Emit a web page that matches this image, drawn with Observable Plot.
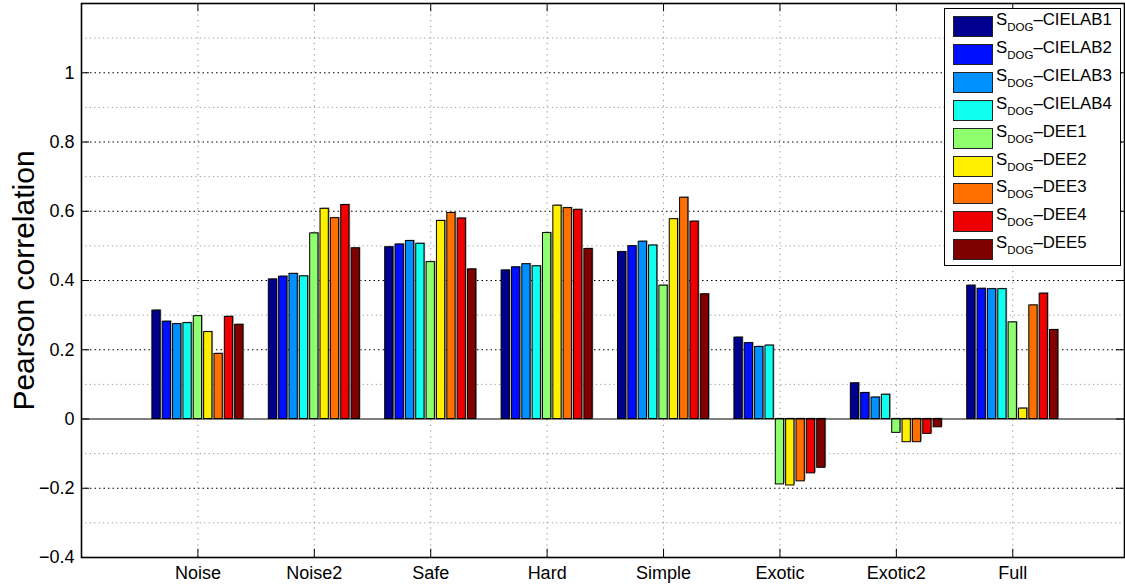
<!DOCTYPE html>
<html>
<head>
<meta charset="utf-8">
<script src="https://cdn.jsdelivr.net/npm/d3@7"></script>
<script src="https://cdn.jsdelivr.net/npm/@observablehq/plot@0.6"></script>
<style>
  html, body { margin: 0; padding: 0; background: white; }
  #wrap { position: relative; width: 1125px; height: 585px; font-family: "Liberation Sans", Arial, sans-serif; }
  #legend { position: absolute; left: 944px; top: 8px; width: 177px; height: 258px; border: 1px solid #000; background: #fff; box-sizing: border-box; }
  .row { position: absolute; left: 0; height: 21px; }
  .sw { position: absolute; left: 8px; top: 0; width: 40px; height: 21px; box-sizing: border-box; border: 1px solid #222; }
  .lb { position: absolute; left: 51px; top: -4px; font-size: 16.8px; white-space: nowrap; color: #000; line-height: 16.5px; }
  .lb sub { font-size: 11.5px; vertical-align: -6px; line-height: 0; }
</style>
</head>
<body>
<div id="wrap"><div id="chart"></div><div id="legend"></div></div>
<script>
const categories = ["Noise", "Noise2", "Safe", "Hard", "Simple", "Exotic", "Exotic2", "Full"];
const seriesNames = ["CIELAB1", "CIELAB2", "CIELAB3", "CIELAB4", "DEE1", "DEE2", "DEE3", "DEE4", "DEE5"];
const seriesColors = ["#00008f", "#0010ff", "#0090ff", "#10ffef", "#8fff70", "#ffef00", "#ff7000", "#ef0000", "#800000"];

const cielab1 = [0.313, 0.403, 0.496, 0.429, 0.482, 0.235, 0.103, 0.385];
const cielab2 = [0.281, 0.411, 0.504, 0.438, 0.499, 0.219, 0.075, 0.376];
const cielab3 = [0.274, 0.419, 0.514, 0.447, 0.512, 0.208, 0.062, 0.375];
const cielab4 = [0.277, 0.412, 0.506, 0.441, 0.501, 0.212, 0.070, 0.375];
const dee1 = [0.297, 0.536, 0.453, 0.537, 0.385, -0.189, -0.040, 0.279];
const dee2 = [0.251, 0.607, 0.572, 0.616, 0.577, -0.192, -0.067, 0.030];
const dee3 = [0.188, 0.580, 0.595, 0.609, 0.639, -0.180, -0.067, 0.328];
const dee4 = [0.295, 0.618, 0.579, 0.604, 0.570, -0.157, -0.043, 0.362];
const dee5 = [0.272, 0.493, 0.432, 0.491, 0.360, -0.141, -0.024, 0.257];

const yTicks = [-0.4, -0.2, 0, 0.2, 0.4, 0.6, 0.8, 1];
const yMinor = [-0.3, -0.1, 0.1, 0.3, 0.5, 0.7, 0.9, 1.1];
const yLabel = "Pearson correlation";

const seriesValues = [cielab1, cielab2, cielab3, cielab4, dee1, dee2, dee3, dee4, dee5];
const nS = seriesNames.length;
const slot = 0.8 / nS;
const barW = slot * 0.8;
const rows = [];
seriesValues.forEach((vals, j) => {
  vals.forEach((v, i) => {
    const c = (i + 1) + (j - (nS - 1) / 2) * slot;
    rows.push({cat: categories[i], series: seriesNames[j], j, x1: c - barW / 2, x2: c + barW / 2, value: v});
  });
});
const catPos = categories.map((c, i) => ({name: c, pos: i + 1}));
const xMax = 8.96;
const tickLenX = 0.07;
const tickLenY = 0.024;

const chart = Plot.plot({
  width: 1125,
  height: 585,
  marginLeft: 81,
  marginRight: 1,
  marginTop: 3,
  marginBottom: 28,
  style: {fontFamily: "Liberation Sans, Arial, sans-serif", fontSize: "18px", color: "#000", background: "white"},
  x: {type: "linear", domain: [0, xMax], axis: null},
  y: {domain: [-0.4, 1.2], axis: null},
  marks: [
    Plot.ruleY(yMinor, {stroke: "#9a9a9a", strokeDasharray: "1.2,3.2", strokeWidth: 1}),
    Plot.ruleY(yTicks.filter(d => d !== 0 && d !== -0.4), {stroke: "#000", strokeDasharray: "1.5,3", strokeWidth: 1}),
    Plot.ruleX(catPos, {x: "pos", stroke: "#8a8a8a", strokeDasharray: "1.2,4.5", strokeWidth: 1}),
    Plot.rect(rows, {x1: "x1", x2: "x2", y1: 0, y2: "value", fill: "#9a9a9a", dx: 1.2, dy: -0.8}),
    Plot.rect(rows, {x1: "x1", x2: "x2", y1: 0, y2: "value", fill: d => seriesColors[d.j], stroke: "#000", strokeWidth: 1}),
    Plot.ruleY([0], {stroke: "#000", strokeWidth: 1}),
    Plot.ruleY(yTicks, {y: d => d, x1: 0, x2: tickLenX, stroke: "#000", strokeWidth: 1}),
    Plot.ruleY(yTicks, {y: d => d, x1: xMax - tickLenX, x2: xMax, stroke: "#000", strokeWidth: 1}),
    Plot.ruleX(catPos, {x: "pos", y1: -0.4, y2: -0.4 + tickLenY, stroke: "#000", strokeWidth: 1}),
    Plot.ruleX(catPos, {x: "pos", y1: 1.2 - tickLenY, y2: 1.2, stroke: "#000", strokeWidth: 1}),
    Plot.frame({stroke: "#000", strokeWidth: 1.6}),
    Plot.axisY({ticks: yTicks, tickSize: 0, tickPadding: 7, label: null, tickFormat: d => d === 0 ? "0" : d3.format("")(d).replace("-", "\u2013"), fontSize: 18}),
    Plot.axisX({ticks: catPos.map(d => d.pos), tickSize: 0, tickPadding: 9, label: null, tickFormat: d => categories[d - 1], fontSize: 18}),
    Plot.text([yLabel], {text: d => d, frameAnchor: "left", textAnchor: "middle", lineAnchor: "middle", rotate: -90, dx: -57, fontSize: 30})
  ]
});
document.getElementById("chart").appendChild(chart);

const legend = document.getElementById("legend");
seriesNames.forEach((name, j) => {
  const row = document.createElement("div");
  row.className = "row";
  row.style.top = (7 + j * 27.9) + "px";
  row.innerHTML = `<div class="sw" style="background:${seriesColors[j]}"></div><div class="lb">S<sub>DOG</sub>\u2013${name}</div>`;
  legend.appendChild(row);
});
</script>
</body>
</html>
